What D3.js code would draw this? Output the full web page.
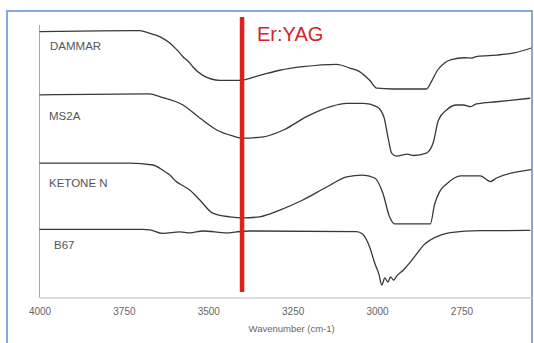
<!DOCTYPE html>
<html>
<head>
<meta charset="utf-8">
<script src="https://cdnjs.cloudflare.com/ajax/libs/d3/7.8.5/d3.min.js"></script>
<style>
  body { margin: 0; background: #fff; }
  svg { display: block; font-family: "Liberation Sans", Arial, sans-serif; }
  .axis path, .axis line { stroke: #bfbfbf; }
  .axis text { fill: #666; font-size: 10px; }
  .spectrum { fill: none; stroke: #383838; stroke-width: 1.3; }
  .sample-label { fill: #555; font-size: 11.5px; }
</style>
</head>
<body>
<svg id="ftir" width="534" height="343"></svg>
<script>
// wavenumber ticks (cm-1)
var xTicks = [4000, 3750, 3500, 3250, 3000, 2750];
var laserLine = 3400;   // Er:YAG, 2.94 um

// stacked spectra, arbitrary units (offset)
var dammarWn = [4000, 3820, 3703, 3673, 3644, 3614, 3593, 3575, 3555, 3546, 3516, 3466, 3407, 3348, 3288, 3220, 3120, 3081, 3052, 3022, 3001, 2954, 2854, 2837, 2821, 2800, 2780, 2741, 2720, 2703, 2646, 2594, 2543];
var dammarVal = [97.9, 98.2, 98.3, 97.3, 96.1, 93.7, 91.2, 88.7, 86.4, 85.0, 81.8, 80.0, 80.0, 81.8, 83.7, 85.0, 85.9, 84.5, 83.2, 80.0, 77.1, 76.8, 76.8, 80.0, 83.7, 86.4, 87.6, 88.3, 88.2, 88.8, 89.3, 90.1, 91.9];

var ms2aWn = [4000, 3673, 3644, 3575, 3525, 3475, 3428, 3398, 3336, 3277, 3209, 3138, 3090, 3040, 3001, 2980, 2966, 2957, 2942, 2910, 2892, 2854, 2834, 2818, 2794, 2765, 2744, 2723, 2706, 2646, 2546];
var ms2aVal = [74.6, 75.0, 74.0, 70.9, 66.1, 61.7, 59.5, 58.7, 59.2, 61.7, 66.6, 70.3, 71.5, 71.5, 70.3, 66.6, 58.0, 53.2, 52.1, 52.8, 52.3, 53.2, 56.9, 65.4, 69.1, 70.9, 70.9, 70.3, 71.3, 72.1, 73.4];

var ketoneWn = [4000, 3732, 3664, 3635, 3614, 3593, 3584, 3555, 3525, 3487, 3436, 3398, 3348, 3288, 3220, 3149, 3090, 3043, 3007, 2983, 2963, 2948, 2842, 2830, 2815, 2794, 2771, 2753, 2694, 2664, 2646, 2543];
var ketoneVal = [49.5, 49.5, 48.8, 46.9, 45.1, 42.5, 41.8, 39.6, 35.9, 31.1, 29.7, 29.3, 29.7, 32.2, 35.9, 40.7, 44.4, 45.1, 44.0, 38.5, 29.7, 27.1, 27.1, 34.1, 38.9, 41.8, 44.0, 44.8, 44.8, 42.7, 44.0, 47.1];

var b67Wn = [4000, 3695, 3673, 3635, 3584, 3555, 3516, 3445, 3416, 3377, 3061, 3043, 3022, 3007, 2995, 2986, 2977, 2968, 2960, 2951, 2942, 2922, 2901, 2883, 2862, 2842, 2812, 2783, 2694, 2546];
var b67Val = [25.1, 25.1, 24.9, 23.6, 24.2, 23.8, 24.5, 23.8, 24.2, 24.5, 24.3, 23.4, 18.6, 12.7, 8.8, 4.6, 7.2, 5.7, 7.6, 6.4, 7.9, 10.1, 13.1, 16.0, 19.3, 21.2, 23.0, 23.9, 24.6, 24.7];

var samples = [
  { name: "DAMMAR", wn: dammarWn, val: dammarVal, labelY: 50, labelX: 50 },
  { name: "MS2A", wn: ms2aWn, val: ms2aVal, labelY: 120, labelX: 49 },
  { name: "KETONE N", wn: ketoneWn, val: ketoneVal, labelY: 187, labelX: 49 },
  { name: "B67", wn: b67Wn, val: b67Val, labelY: 249, labelX: 54 }
];

var svg = d3.select("svg#ftir"),
    margin = {top: 26, right: 1, bottom: 45.5, left: 39.5},
    width = +svg.attr("width") - margin.left - margin.right,
    height = +svg.attr("height") - margin.top - margin.bottom;

// outer frame
svg.append("rect")
    .attr("x", 7)
    .attr("y", 11)
    .attr("width", 525)
    .attr("height", 345)
    .attr("fill", "none")
    .attr("stroke", "#85aad8")
    .attr("stroke-width", 2);

var g = svg.append("g").attr("transform", "translate(" + margin.left + "," + margin.top + ")");

var x = d3.scaleLinear()
    .domain([4000, 2541])
    .range([0, width - 1]);

var y = d3.scaleLinear()
    .domain([0, 100])
    .range([height, 0]);

// axes
var xAxis = g.append("g")
    .attr("class", "axis")
    .attr("transform", "translate(0," + height + ")")
    .call(d3.axisBottom(x).tickValues(xTicks).tickSize(0).tickPadding(10).tickFormat(d3.format("d")));
xAxis.select(".domain").attr("stroke", "#c4c4c4");

g.append("line")
    .attr("x1", 0)
    .attr("x2", 0)
    .attr("y1", -1)
    .attr("y2", height)
    .attr("stroke", "#a8a8a8");

g.append("text")
    .attr("x", x(3253))
    .attr("y", height + 34)
    .attr("text-anchor", "middle")
    .attr("fill", "#666")
    .attr("font-size", "9.5px")
    .text("Wavenumber (cm-1)");

// spectra
var line = d3.line()
    .x(function(d) { return x(d[0]); })
    .y(function(d) { return y(d[1]); })
    .curve(d3.curveMonotoneX);

samples.forEach(function(s) {
  var pts = s.wn.map(function(w, i) { return [w, s.val[i]]; });
  g.append("path")
      .datum(pts)
      .attr("class", "spectrum")
      .attr("d", line);
  svg.append("text")
      .attr("class", "sample-label")
      .attr("x", s.labelX)
      .attr("y", s.labelY)
      .text(s.name);
});

// Er:YAG marker
g.append("line")
    .attr("x1", x(laserLine))
    .attr("x2", x(laserLine))
    .attr("y1", -9)
    .attr("y2", height - 5.5)
    .attr("stroke", "#e31e1e")
    .attr("stroke-width", 4.5);

g.append("text")
    .attr("x", x(laserLine) + 15)
    .attr("y", 15)
    .attr("fill", "#d2232a")
    .attr("font-size", "20px")
    .text("Er:YAG");
</script>
</body>
</html>
